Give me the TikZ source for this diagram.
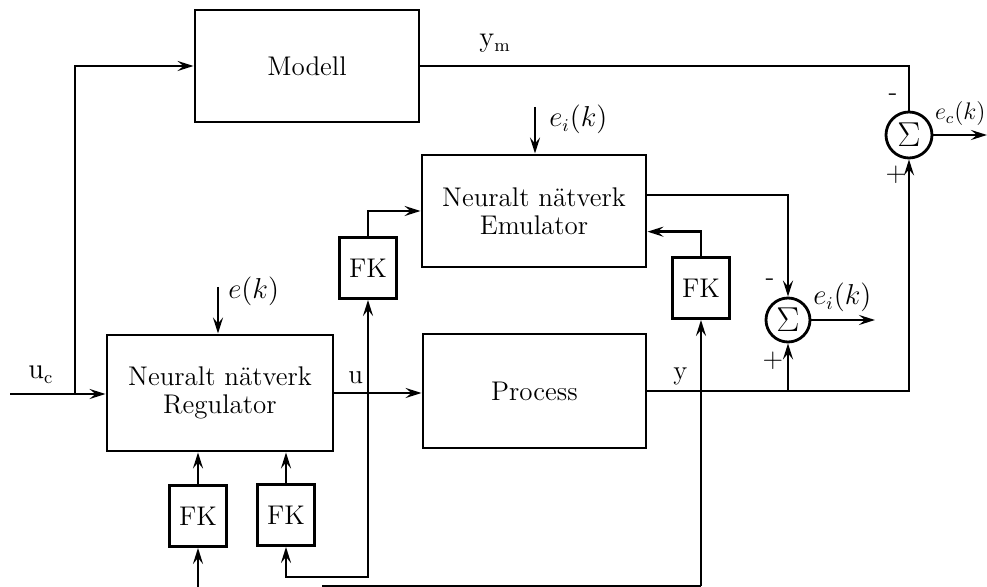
\documentclass[tikz,border=0pt]{standalone}
\usetikzlibrary{arrows.meta,calc}
\begin{document}
\begin{tikzpicture}[x=0.5pt,y=-0.5pt,
  font=\fontsize{13.5}{14}\selectfont,
  blk/.style={draw,line width=1.45pt,inner sep=0pt,align=center},
  fkbox/.style={blk,minimum width=28.5pt,minimum height=30.5pt},
  sumnode/.style={draw,circle,line width=1.4pt,inner sep=0pt,font=\fontsize{17}{17}\selectfont},
  sig/.style={line width=1.35pt},
  arr/.style={sig,-{Stealth[length=8pt,width=5pt,inset=3pt]}},
  lbl/.style={inner sep=0pt}]
\useasboundingbox (0,0) rectangle (987,587);

% blocks
\node[blk,minimum width=112pt,minimum height=56pt] (modell) at (307,66) {Modell};
\node[blk,minimum width=112pt,minimum height=56pt] (emu) at (534,211) {Neuralt nätverk\\Emulator};
\node[blk,minimum width=113pt,minimum height=58pt] (reg) at (220,393) {Neuralt nätverk\\Regulator};
\node[blk,minimum width=111.5pt,minimum height=57pt] (proc) at (534.5,391) {Process};
\node[fkbox] (fk1) at (198,516) {FK};
\node[fkbox] (fk2) at (286,515) {FK};
\node[fkbox] (fk4) at (368,268) {FK};
\node[fkbox] (fk3) at (701,288) {FK};
\node[sumnode,minimum size=22pt] (s2) at (788,320) {$\Sigma$};
\node[sumnode,minimum size=23pt] (s1) at (909,135) {$\Sigma$};

% free ends and junctions
\coordinate (ucin) at (10,394);
\coordinate (j1) at (75,394);
\coordinate (ek) at (218,287);
\coordinate (eik) at (535,107);
\coordinate (ju) at (reg.east -| fk4);
\coordinate (jb2) at (368,577);
\coordinate (bot) at (0,586);
\coordinate (jb) at (fk3 |- bot);
\coordinate (bl) at (322,586);
\coordinate (f1in) at (198,587);
\coordinate (ecend) at (987,135);
\coordinate (eiend) at (875,320);

% connectors
\draw[arr] (ucin) -- (ucin -| reg.west);
\draw[arr] (j1) |- (modell.west);
\draw[arr] (ek) -- (ek |- reg.north);
\draw[arr] (reg.east) -- (reg.east -| proc.west);
\draw[arr] (ju) -- (fk4.south);
\draw[arr] (ju) -- (jb2) -| (fk2.south);
\draw[arr] (fk4.north) |- (emu.west);
\draw[arr] (eik) -- (eik |- emu.north);
\draw[arr] ($(emu.north east)!0.36!(emu.south east)$) -| (s2.north);
\draw[arr] (fk3.north) |- ($(emu.north east)!0.68!(emu.south east)$);
\draw[arr] (proc.east) -| (s1.south);
\draw[arr] (proc.east -| s2) -- (s2.south);
\draw[arr] (jb) -- (fk3.south);
\draw[sig] (jb) -- (bl);
\draw[arr] (f1in) -- (fk1.south);
\draw[arr] (fk1.north) -- (fk1.north |- reg.south);
\draw[arr] (fk2.north) -- (fk2.north |- reg.south);
\draw[sig] (modell.east) -| (s1.north);
\draw[arr] (s1.east) -- (ecend);
\draw[arr] (s2.east) -- (eiend);

% labels
\node[lbl,anchor=base west] (lym) at (479,47) {$\mathrm{y}_\mathrm{m}$};
\node[lbl,anchor=base west] (luc) at (28,379) {$\mathrm{u}_\mathrm{c}$};
\node[lbl,anchor=base west] (lu) at (348,384) {u};
\node[lbl,anchor=base west] (ly) at (673,380) {y};
\node[lbl,anchor=base west] (lek) at (228,299) {$e(k)$};
\node[lbl,anchor=base west] (leik) at (549,127) {$e_i(k)$};
\node[lbl,anchor=base west] (leio) at (813,305) {$e_i(k)$};
\node[lbl,anchor=base east,font=\fontsize{12}{12}\selectfont] (lec) at (986,120) {$e_c(k)$};
\node[lbl] (m2) at (770,282) {-};
\node[lbl] (p2) at (773,361) {+};
\node[lbl] (m1) at (893,97) {-};
\node[lbl] (p1) at (896,175) {+};
\end{tikzpicture}
\end{document}
